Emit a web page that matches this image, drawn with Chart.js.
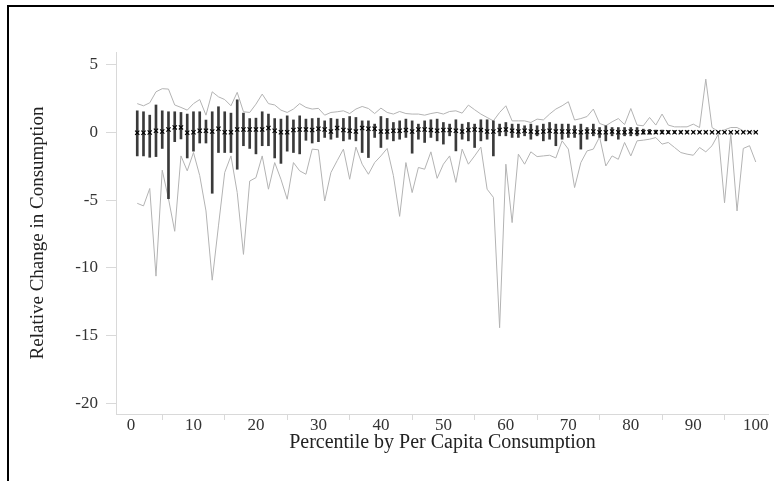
<!DOCTYPE html>
<html>
<head>
<meta charset="utf-8">
<title>Relative Change in Consumption by Percentile</title>
<script src="https://cdn.jsdelivr.net/npm/chart.js@4.4.1/dist/chart.umd.min.js"></script>
<style>
  html, body { margin:0; padding:0; background:#fff; }
  #wrap { position:relative; width:774px; height:481px; overflow:hidden; }
  #frame { position:absolute; left:7px; top:5px; right:-10px; bottom:-10px; border-left:2px solid #000; border-top:2px solid #000; }
  canvas { position:absolute; left:0; top:0; }
</style>
</head>
<body>
<div id="wrap">
  <canvas id="chart" width="774" height="481"></canvas>
  <div id="frame"></div>
</div>
<script>
// percentile by per capita consumption (x) and relative change stats (y)
const percentiles = [1,2,3,4,5,6,7,8,9,10,11,12,13,14,15,16,17,18,19,20,
  21,22,23,24,25,26,27,28,29,30,31,32,33,34,35,36,37,38,39,40,
  41,42,43,44,45,46,47,48,49,50,51,52,53,54,55,56,57,58,59,60,
  61,62,63,64,65,66,67,68,69,70,71,72,73,74,75,76,77,78,79,80,
  81,82,83,84,85,86,87,88,89,90,91,92,93,94,95,96,97,98,99,100];

const maxChange = [2.1,1.94,2.16,2.97,3.2,3.17,2.0,1.82,1.62,2.1,
  2.4,1.25,2.97,2.6,2.4,1.94,2.93,1.5,1.45,2.06,
  2.8,2.1,2.0,1.62,1.45,1.7,2.1,1.82,1.7,1.75,
  1.25,1.45,1.5,1.57,1.37,1.7,1.89,1.74,1.37,1.77,
  1.45,1.33,1.52,1.37,1.33,1.33,1.25,1.37,1.45,1.33,
  1.52,1.57,1.4,1.99,1.65,1.33,1.08,0.83,1.45,1.94,
  0.83,0.83,0.83,0.71,0.96,0.9,1.33,1.7,1.94,2.24,
  0.89,1.0,1.15,1.7,0.64,0.47,0.76,1.0,0.56,1.74,
  0.52,0.47,1.08,0.52,1.33,0.52,0.39,0.39,0.39,0.59,
  0.34,3.9,0.34,0.05,0.17,0.34,0.34,0.1,0.03,0.0];

const minChange = [-5.24,-5.43,-4.15,-10.6,-2.8,-4.9,-7.3,-1.75,-2.85,-1.5,
  -3.2,-5.8,-10.9,-6.9,-2.97,-1.75,-4.45,-9.0,-3.6,-3.35,
  -1.75,-4.2,-2.24,-3.47,-4.94,-2.24,-2.85,-3.1,-1.25,-1.3,
  -5.07,-2.97,-2.1,-1.25,-3.47,-1.1,-2.36,-3.1,-2.24,-1.75,
  -1.2,-3.2,-6.2,-2.24,-4.45,-2.6,-2.73,-1.45,-3.4,-2.36,
  -1.75,-3.7,-1.25,-2.36,-1.75,-1.1,-4.2,-4.8,-14.4,-2.36,
  -6.66,-1.62,-2.36,-1.45,-1.8,-1.75,-1.7,-1.9,-0.64,-1.25,
  -4.08,-2.24,-1.38,-1.25,-0.35,-2.49,-1.75,-2.0,-0.76,-1.75,
  -0.64,-0.59,-0.52,-0.4,-0.88,-0.76,-1.13,-1.5,-1.62,-1.7,
  -1.13,-1.45,-1.0,-0.15,-5.2,-0.1,-5.8,-1.2,-1.0,-2.2];

const meanChange = [-0.05,-0.05,-0.03,0.1,0.05,0.2,0.35,0.35,-0.05,0.0,
  0.1,0.1,0.05,0.25,0.0,0.0,0.2,0.2,0.2,0.2,
  0.2,0.3,0.1,0.0,0.0,0.15,0.2,0.2,0.15,0.25,
  0.2,0.05,0.3,0.15,0.1,0.05,0.3,0.25,0.25,0.05,
  0.05,0.1,0.1,0.15,0.05,0.2,0.2,0.15,0.1,0.15,
  0.15,0.1,0.05,0.15,0.2,0.15,0.05,0.05,0.15,0.2,
  0.1,0.05,0.1,0.05,0.0,0.05,0.1,0.05,0.05,0.05,
  0.05,0.0,0.05,0.05,0.0,0.0,0.05,0.0,0.0,0.05,
  0,0,0,0,0,0,0,0,0,0,
  0,0,0,0,0,0,0,0,0,0];

// spread bar ends (upper / lower)
const barHigh = [1.57,1.5,1.25,2.0,1.57,1.5,1.5,1.45,1.33,1.5,
  1.5,0.89,1.5,1.87,1.5,1.4,2.38,1.4,1.0,1.03,
  1.5,1.33,1.0,0.96,1.2,0.9,1.2,0.96,1.0,1.03,
  0.83,1.01,0.96,1.01,1.15,1.08,0.83,0.83,0.59,1.15,
  1.01,0.71,0.83,0.96,0.83,0.59,0.83,0.91,0.96,0.71,
  0.59,0.91,0.59,0.71,0.59,0.91,0.91,0.83,0.59,0.71,
  0.59,0.59,0.47,0.59,0.47,0.59,0.71,0.59,0.59,0.59,
  0.47,0.59,0.34,0.59,0.34,0.47,0.34,0.34,0.34,0.34,
  0.34,0.22,0.2,0.15,0.15,0.12,0.12,0.1,0.1,0.08,
  0.08,0.08,0.06,0.06,0.05,0.05,0.05,0.05,0.05,0.05];

const barLow = [-1.75,-1.75,-1.85,-1.8,-1.2,-4.9,-0.7,-0.5,-1.9,-1.4,
  -0.8,-0.8,-4.5,-1.5,-1.5,-1.5,-2.73,-1.0,-1.2,-1.6,
  -1.0,-1.0,-1.9,-2.3,-1.4,-1.5,-1.6,-0.6,-0.8,-0.7,
  -0.39,-0.52,-0.39,-0.64,-0.52,-0.64,-1.5,-1.87,-0.39,-1.13,
  -0.52,-0.64,-0.52,-0.39,-1.55,-0.52,-0.76,-0.39,-0.64,-0.88,
  -0.27,-1.38,-0.52,-0.64,-1.13,-0.64,-0.52,-1.75,-0.27,-0.27,
  -0.39,-0.39,-0.27,-0.52,-0.27,-0.64,-0.52,-1.0,-0.52,-0.39,
  -0.39,-1.25,-0.52,-0.27,-0.39,-0.64,-0.27,-0.52,-0.27,-0.27,
  -0.27,-0.15,-0.15,-0.12,-0.12,-0.1,-0.1,-0.08,-0.08,-0.06,
  -0.06,-0.06,-0.05,-0.05,-0.05,-0.05,-0.05,-0.05,-0.05,-0.05];

const xTicks = [0,10,20,30,40,50,60,70,80,90,100];
const yTicks = [-20,-15,-10,-5,0,5];

const serif = 'Liberation Serif';
const pts = arr => percentiles.map((p,i)=>({x:p, y:arr[i]}));

const ctx = document.getElementById('chart').getContext('2d');
new Chart(ctx, {
  type: 'bar',
  data: {
    datasets: [
      { type:'line', data: pts(maxChange), borderColor:'#b3b3b3', borderWidth:1, pointRadius:0, tension:0, order:3 },
      { type:'line', data: pts(minChange), borderColor:'#b3b3b3', borderWidth:1, pointRadius:0, tension:0, order:3 },
      { type:'bar', data: percentiles.map((p,i)=>({x:p, y:[barLow[i], barHigh[i]]})), backgroundColor:'#3a3a3a', barThickness:2, order:2 },
      { type:'line', data: pts(meanChange), showLine:false, pointStyle:'crossRot', pointRadius:3, borderColor:'#000', borderWidth:1.1, order:1 }
    ]
  },
  options: {
    responsive: false,
    animation: false,
    layout: { padding: { left:27, top:52, right:2, bottom:26 } },
    plugins: { legend:{display:false}, tooltip:{enabled:false} },
    scales: {
      x: {
        type:'linear', min:-2.4, max:102.1, offset:false,
        afterBuildTicks: s => { s.ticks = xTicks.map(v=>({value:v})); },
        afterFit: s => { s.height = 41; },
        grid: { drawOnChartArea:false, color:'#d9d9d9', tickLength:6 },
        border: { color:'#d9d9d9' },
        ticks: { color:'#333', font:{family:serif, size:17}, padding:-5, maxRotation:0, callback: v => String(v) },
        title: { display:true, text:'Percentile by Per Capita Consumption', color:'#222', font:{family:serif, size:20}, padding:0 }
      },
      y: {
        min:-20.75, max:5.9,
        afterBuildTicks: s => { s.ticks = yTicks.map(v=>({value:v})); },
        afterFit: s => { s.width = 89; },
        grid: { drawOnChartArea:false, color:'#d9d9d9', tickLength:10 },
        border: { color:'#d9d9d9' },
        ticks: { color:'#333', font:{family:serif, size:17}, padding:8, callback: v => String(v) },
        title: { display:true, text:'Relative Change in Consumption', color:'#222', font:{family:serif, size:19}, padding:0 }
      }
    }
  }
});
</script>
</body>
</html>
